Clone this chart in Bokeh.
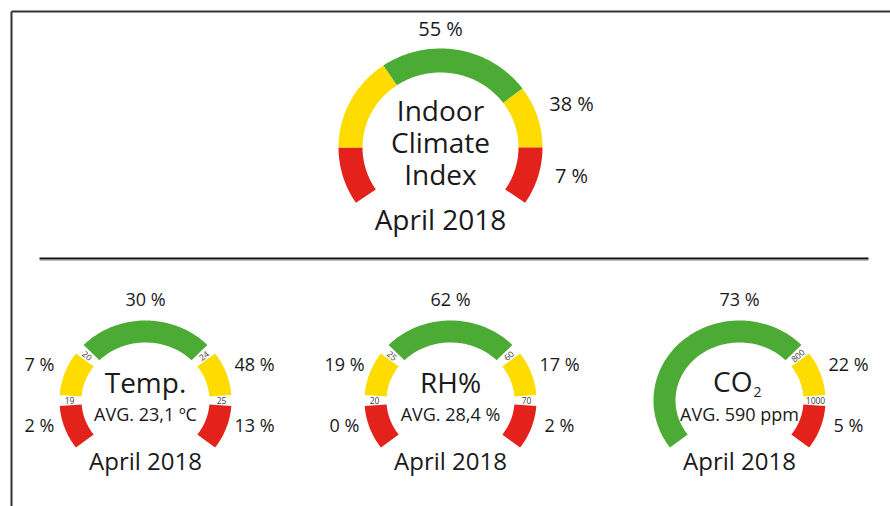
import numpy as np
from bokeh.plotting import figure
from bokeh.models import Range1d
from bokeh.core.properties import value
from bokeh.embed import file_html
from bokeh.resources import INLINE

# ---------------- data ----------------
month_label = "April 2018"

# Indoor Climate Index (share of time per class)
ici_title = ["Indoor", "Climate", "Index"]
ici_seg_classes = ["red", "yellow", "green", "yellow", "red"]
ici_label_classes = ["green", "yellow", "red"]
ici_share = [55, 38, 7]

# Temperature
temp_name = "Temp."
temp_avg = "AVG. 23,1 ºC"
temp_classes = ["red", "yellow", "green", "yellow", "red"]
temp_share = [2, 7, 30, 48, 13]
temp_limits = ["19", "20", "24", "25"]

# Relative humidity
rh_name = "RH%"
rh_avg = "AVG. 28,4 %"
rh_classes = ["red", "yellow", "green", "yellow", "red"]
rh_share = [0, 19, 62, 17, 2]
rh_limits = ["20", "25", "60", "70"]

# CO2
co2_name = "CO"
co2_sub = "2"
co2_avg = "AVG. 590 ppm"
co2_classes = ["green", "yellow", "red"]
co2_share = [73, 22, 5]
co2_limits = ["800", "1000"]

# ---------------- style / layout ----------------
W, H = 890, 506
FONT = value("Open Sans")
TXT = "#1a1a1a"
COL = {"green": "#4cab35", "yellow": "#fedc00", "red": "#e2221b"}

p = figure(width=W, height=H, x_range=Range1d(0, W), y_range=Range1d(H, 0),
           toolbar_location=None, output_backend="svg", min_border=0)
p.axis.visible = False
p.grid.visible = False
p.outline_line_color = None
p.background_fill_color = "white"
p.border_fill_color = "white"

# frame lines
p.segment(x0=[11, 11], y0=[11, 11], x1=[W, 11], y1=[11, H], line_color="#333333", line_width=2)
p.segment(x0=[39], y0=[258], x1=[868], y1=[258], line_color="#111111", line_width=2)
p.segment(x0=[39], y0=[260], x1=[868], y1=[260], line_color="#bbbbbb", line_width=1)


def ring(cx, cy, rx, ry, band, a0, a1, n=80):
    t = np.radians(np.linspace(a0, a1, n))
    xo = cx + rx * np.cos(t)
    yo = cy - ry * np.sin(t)
    xi = cx + (rx - band) * np.cos(t[::-1])
    yi = cy - (ry - band) * np.sin(t[::-1])
    return list(np.concatenate([xo, xi])), list(np.concatenate([yo, yi]))


def gauge(cx, cy, rx, ry, band, bounds, classes, gap, limits=None):
    xs, ys, cols = [], [], []
    n = len(classes)
    for i in range(n):
        a0 = bounds[i] - (gap / 2 if i > 0 else 0)
        a1 = bounds[i + 1] + (gap / 2 if i < n - 1 else 0)
        x, y = ring(cx, cy, rx, ry, band, a0, a1)
        xs.append(x)
        ys.append(y)
        cols.append(COL[classes[i]])
    p.patches(xs=xs, ys=ys, fill_color=cols, line_color=None)
    if limits:
        lx, ly, la = [], [], []
        for g in bounds[1:-1]:
            t = np.radians(g)
            lx.append(cx + (rx - band / 2 + 1) * np.cos(t))
            ly.append(cy - (ry - band / 2 + 1) * np.sin(t))
            rot = g - 180 if g > 90 else g
            la.append(np.radians(rot))
        p.text(x=lx, y=ly, text=limits, angle=la, text_font=FONT, text_font_size="8.5px",
               text_color="#3a3a3a", text_align="center", text_baseline="middle")


def txt(x, y, s, size, align="center"):
    # y is the wanted visual baseline; compensate renderer baseline offset
    p.text(x=[x], y=[y - 0.42 * size], text=[s], text_font=FONT, text_font_size=f"{size}px",
           text_color=TXT, text_align=align, text_baseline="alphabetic")


# ---- main gauge ----
mcx, mcy = 440, 147
gauge(mcx, mcy, 102, 99, 24, [214, 180, 124, 36.5, 0, -34], ici_seg_classes, 0)
main_pos = {"green": (0, -111), "yellow": (131, -35.5), "red": (131, 36)}
for cls, v in zip(ici_label_classes, ici_share):
    dx, dy = main_pos[cls]
    txt(mcx + dx, mcy + dy, f"{v} %", 20)
for line, dy in zip(ici_title, [-26, 6, 38]):
    txt(mcx, mcy + dy, line, 28)
txt(mcx, mcy + 83, month_label, 28)

# ---- small gauges ----
SCY = 400
RX, RY, BAND, GAP = 86, 80, 22, 8
pos5 = [(-106, 32), (-106, -28.5), (0, -93.5), (109, -28.5), (109, 32)]
pos3 = [(0, -93.5), (109, -28.5), (109, 32)]

subs = [
    (145, temp_name, temp_avg, temp_classes, temp_share, temp_limits, [216, 180, 140, 40, 0, -36], pos5),
    (450, rh_name, rh_avg, rh_classes, rh_share, rh_limits, [216, 180, 140, 40, 0, -36], pos5),
    (739, co2_name, co2_avg, co2_classes, co2_share, co2_limits, [216, 40, 0, -36], pos3),
]
for cx, name, avg, classes, share, limits, bounds, pos in subs:
    gauge(cx, SCY, RX, RY, BAND, bounds, classes, GAP, limits)
    for (dx, dy), v in zip(pos, share):
        txt(cx + dx, SCY + dy, f"{v} %", 18)
    if name == co2_name:
        txt(cx + 13, SCY - 8, name, 28, align="right")
        txt(cx + 14, SCY - 3, co2_sub, 14, align="left")
    else:
        txt(cx, SCY - 7, name, 28)
    txt(cx, SCY + 21, avg, 18)
    txt(cx, SCY + 70, month_label, 24)

open("out.html", "w").write(file_html(p, INLINE))
